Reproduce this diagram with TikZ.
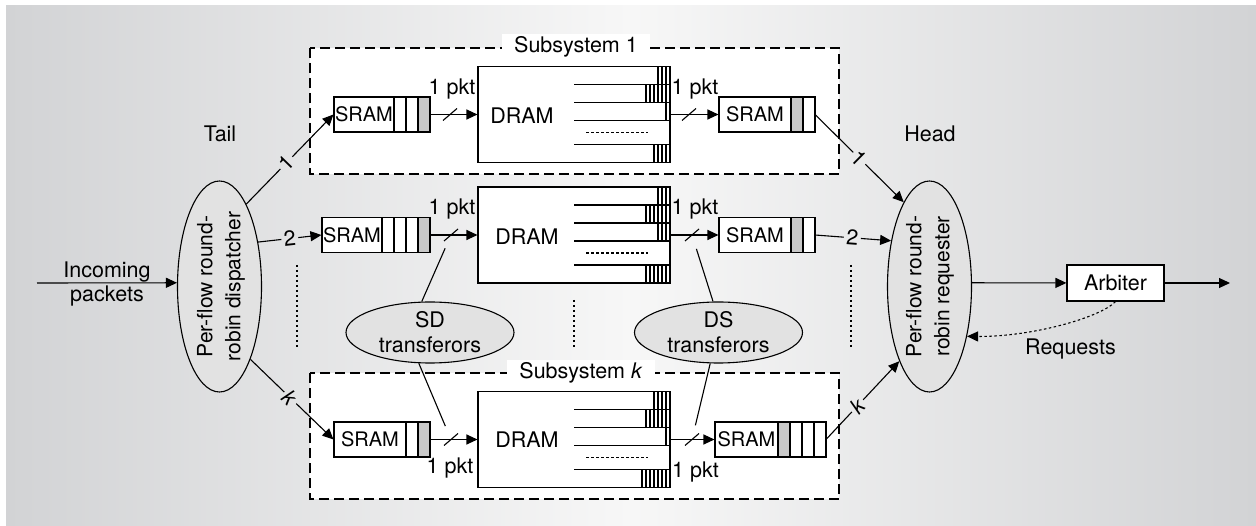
\documentclass[tikz,border=0pt]{standalone}
\usepackage{fontspec}
\setmainfont{TeX Gyre Heros}
\usetikzlibrary{shapes.geometric,arrows.meta}
\definecolor{bgedge}{RGB}{210,211,213}
\definecolor{bgmid}{RGB}{247,247,247}
\definecolor{cellgray}{RGB}{200,200,200}
\definecolor{ellfill}{RGB}{226,226,226}
\tikzset{
  conn/.style={-{Triangle[length=11pt,width=10pt]}},
  sram/.style={draw, fill=white, minimum height=35pt, inner sep=0pt, font=\fontsize{20}{24}\selectfont},
  dram/.style={draw, fill=white, minimum width=192pt, minimum height=96pt, inner sep=0pt},
  flowell/.style={draw, ellipse, fill=ellfill, inner sep=0pt, minimum width=84pt, minimum height=211pt},
  flowtext/.style={rotate=90, align=center, font=\fontsize{21}{28}\selectfont},
  xfer/.style={draw, ellipse, fill=ellfill, inner sep=0pt, minimum width=168pt, minimum height=61pt, align=center, font=\fontsize{21.5}{25}\selectfont},
  subbox/.style={draw, fill=white, dash pattern=on 10pt off 5pt},
  subtitle/.style={fill=white, inner xsep=12pt, inner ysep=3pt},
  tick/.style={circle, inner sep=0pt, minimum size=28pt},
  flowlbl/.style={sloped, inner sep=2pt},
  dotline/.style={dash pattern=on 2.5pt off 2.5pt},
}
\begin{document}
\begin{tikzpicture}[x=1pt, y=-1pt, line width=1.1pt, font=\fontsize{21.5}{25}\selectfont]
\useasboundingbox (0,0) rectangle (1256,526);
\shade[left color=bgedge, right color=bgedge, middle color=bgmid] (6,6) rectangle (1256,526);

\draw[subbox] (310,48) rectangle (839,174);
\node[subtitle] (sub1) at (576,47) {Subsystem 1};
\draw[subbox] (310,373) rectangle (839,499);
\node[subtitle] (subk) at (581,373) {Subsystem \textit{k}};

\begin{scope}[shift={(0,114.5)}]
\node[sram, minimum width=60pt] (tsram1) at (364,0) {SRAM};
\draw[fill=white] (394,-17.5) rectangle (406,17.5) (406,-17.5) rectangle (418,17.5);
\draw[fill=cellgray] (418,-17.5) rectangle (430,17.5);
\coordinate (tout1) at (430,0);
\node[dram] (dram1) at (574,0) {};
\node[anchor=base] (dlbl1) at (522,9.5) {DRAM};
\draw (574,-30) -- (670,-30) (574,-12) -- (670,-12) (574,6) -- (670,6) (574,30) -- (670,30);
\draw[dotline] (586,18) -- (648,18);
\draw (658,-48) -- (658,-30) (662,-48) -- (662,-30) (666,-48) -- (666,-30);
\draw (646,-30) -- (646,-12) (650,-30) -- (650,-12) (654,-30) -- (654,-12) (658,-30) -- (658,-12) (662,-30) -- (662,-12) (666,-30) -- (666,-12);
\draw (666,-12) -- (666,6);
\draw (654,30) -- (654,48) (658,30) -- (658,48) (662,30) -- (662,48) (666,30) -- (666,48);
\node[sram, minimum width=72pt] (hsram1) at (755,0) {SRAM};
\draw[fill=cellgray] (791,-17.5) rectangle (803,17.5);
\draw[fill=white] (803,-17.5) rectangle (815,17.5);
\coordinate (hout1) at (815,0);
\node[tick] (tk1a) at (450,0) {};
\node[tick] (tk1b) at (689,0) {};
\draw (tk1a) ++(-7,6) -- ++(14,-12);
\draw (tk1b) ++(-7,6) -- ++(14,-12);
\draw[conn] (tout1) -- (dram1);
\draw[conn] (dram1) -- (hsram1);
\node[anchor=base] (pkt1a) at (452,-19.5) {1 pkt};
\node[anchor=base] (pkt1b) at (695,-19.5) {1 pkt};
\end{scope}

\begin{scope}[shift={(0,235)}]
\node[sram, minimum width=60pt] (tsram2) at (352,0) {SRAM};
\draw[fill=white] (382,-17.5) rectangle (394,17.5) (394,-17.5) rectangle (406,17.5) (406,-17.5) rectangle (418,17.5);
\draw[fill=cellgray] (418,-17.5) rectangle (430,17.5);
\coordinate (tout2) at (430,0);
\node[dram] (dram2) at (574,0) {};
\node[anchor=base] (dlbl2) at (527,10) {DRAM};
\draw (574,-30) -- (670,-30) (574,-12) -- (670,-12) (574,6) -- (670,6) (574,30) -- (670,30);
\draw[dotline] (586,18) -- (648,18);
\draw (658,-48) -- (658,-30) (662,-48) -- (662,-30) (666,-48) -- (666,-30);
\draw (646,-30) -- (646,-12) (650,-30) -- (650,-12) (654,-30) -- (654,-12) (658,-30) -- (658,-12) (662,-30) -- (662,-12) (666,-30) -- (666,-12);
\draw (658,-12) -- (658,6) (662,-12) -- (662,6) (666,-12) -- (666,6);
\draw (646,30) -- (646,48) (650,30) -- (650,48) (654,30) -- (654,48) (658,30) -- (658,48) (662,30) -- (662,48) (666,30) -- (666,48);
\node[sram, minimum width=72pt] (hsram2) at (755,0) {SRAM};
\draw[fill=cellgray] (791,-17.5) rectangle (803,17.5);
\draw[fill=white] (803,-17.5) rectangle (815,17.5);
\coordinate (hout2) at (815,0);
\node[tick] (tk2a) at (451,0) {};
\node[tick] (tk2b) at (692,0) {};
\draw (tk2a) ++(-7,6) -- ++(14,-12);
\draw (tk2b) ++(-7,6) -- ++(14,-12);
\draw[conn] (tout2) -- (dram2);
\draw[conn] (dram2) -- (hsram2);
\node[anchor=base] (pkt2a) at (452,-20) {1 pkt};
\node[anchor=base] (pkt2b) at (695,-20) {1 pkt};
\end{scope}

\begin{scope}[shift={(0,439.5)}]
\node[sram, minimum width=72pt] (tsram3) at (370,0) {SRAM};
\draw[fill=white] (406,-17.5) rectangle (418,17.5);
\draw[fill=cellgray] (418,-17.5) rectangle (430,17.5);
\coordinate (tout3) at (430,0);
\node[dram] (dram3) at (574,0) {};
\node[anchor=base] (dlbl3) at (527,8.5) {DRAM};
\draw (574,-30) -- (670,-30) (574,-12) -- (670,-12) (574,6) -- (670,6) (574,30) -- (670,30);
\draw[dotline] (586,18) -- (648,18);
\draw (654,-48) -- (654,-30) (658,-48) -- (658,-30) (662,-48) -- (662,-30) (666,-48) -- (666,-30);
\draw (646,-30) -- (646,-12) (650,-30) -- (650,-12) (654,-30) -- (654,-12) (658,-30) -- (658,-12) (662,-30) -- (662,-12) (666,-30) -- (666,-12);
\draw (666,-12) -- (666,6);
\draw (642,30) -- (642,48) (646,30) -- (646,48) (650,30) -- (650,48) (654,30) -- (654,48) (658,30) -- (658,48) (662,30) -- (662,48) (666,30) -- (666,48);
\node[sram, minimum width=63pt] (hsram3) at (746.5,0) {SRAM};
\draw[fill=cellgray] (778,-17.5) rectangle (790,17.5);
\draw[fill=white] (790,-17.5) rectangle (802,17.5) (802,-17.5) rectangle (814,17.5) (814,-17.5) rectangle (826,17.5);
\coordinate (hout3) at (826,0);
\node[tick] (tk3a) at (451,0) {};
\node[tick] (tk3b) at (692,0) {};
\draw (tk3a) ++(-7,6) -- ++(14,-12);
\draw (tk3b) ++(-7,6) -- ++(14,-12);
\draw[conn] (tout3) -- (dram3);
\draw[conn] (dram3) -- (hsram3);
\node[anchor=base] (pkt3a) at (450,34.5) {1 pkt};
\node[anchor=base] (pkt3b) at (695.5,37.5) {1 pkt};
\end{scope}

\node[flowell] (disp) at (219.5,286.5) {};
\node[flowtext] (dispt) at (221,286.5) {Per-flow round-\\robin dispatcher};
\node[flowell] (req) at (929.5,286.5) {};
\node[flowtext] (reqt) at (930,286.5) {Per-flow round-\\robin requester};
\node[xfer] (sd) at (430,332.5) {SD\\transferors};
\node[xfer] (ds) at (718.5,332.5) {DS\\transferors};
\node[draw, fill=white, minimum width=97pt, minimum height=36pt, inner sep=0pt] (arb) at (1115.5,283) {Arbiter};

\node[anchor=base] (tail) at (220,142) {Tail};
\node[anchor=base] (head) at (930,142) {Head};
\node[anchor=base] (incA) at (107,278) {Incoming};
\node[anchor=base] (incB) at (107,302) {packets};
\node[anchor=base] (reqs) at (1070.5,355) {Requests};

\coordinate (inc) at (37,283);
\coordinate (outc) at (1230,283);
\draw[conn] (inc) -- (disp.175);
\draw[conn] (req.5) -- (arb);
\draw[conn] (arb) -- (outc);
\draw[conn, dotline] (arb.south) .. controls (1100,318) and (1030,337) .. (req.307);

\path (disp.72) -- node[flowlbl, pos=0.46] (f1a) {1} (tsram1.west);
\draw (disp.72) -- (f1a);
\draw[conn] (f1a) -- (tsram1.west);
\path (disp.49) -- node[flowlbl, pos=0.5] (f2a) {2} (tsram2.west);
\draw (disp.49) -- (f2a);
\draw[conn] (f2a) -- (tsram2.west);
\path (disp.293) -- node[flowlbl, pos=0.48] (fka) {\textit{k}} (tsram3.west);
\draw (disp.293) -- (fka);
\draw[conn] (fka) -- (tsram3.west);

\path (hout1) -- node[flowlbl, pos=0.5] (f1b) {1} (req.107);
\draw (hout1) -- (f1b);
\draw[conn] (f1b) -- (req.107);
\path (hout2) -- node[flowlbl, pos=0.49] (f2b) {2} (req.130);
\draw (hout2) -- (f2b);
\draw[conn] (f2b) -- (req.130);
\path (hout3) -- node[flowlbl, pos=0.43] (fkb) {\textit{k}} (req.248);
\draw (hout3) -- (fkb);
\draw[conn] (fkb) -- (req.248);

\draw (sd.105) -- (tk2a);
\draw (sd.250) -- (tk3a);
\draw (ds.100) -- (tk2b);
\draw (ds.255) -- (tk3b);

\draw[dotline] (297,265) -- (297,347);
\draw[dotline] (574,300) -- (574,349);
\draw[dotline] (851,265) -- (851,347);
\end{tikzpicture}
\end{document}
